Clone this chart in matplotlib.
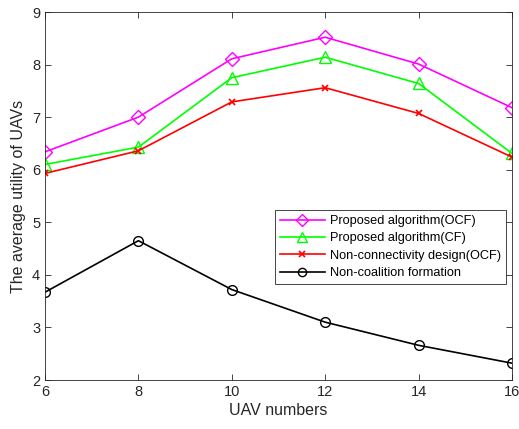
import matplotlib
matplotlib.use("Agg")
import matplotlib.pyplot as plt

plt.rcParams['font.family'] = ['Liberation Sans', 'DejaVu Sans']

x = [6, 8, 10, 12, 14, 16]
ocf = [6.34, 7.00, 8.11, 8.52, 8.01, 7.18]
cf = [6.10, 6.43, 7.75, 8.14, 7.64, 6.31]
nonconn = [5.93, 6.36, 7.29, 7.56, 7.07, 6.24]
noncoal = [3.67, 4.65, 3.72, 3.10, 2.66, 2.32]
labels = ['Proposed algorithm(OCF)', 'Proposed algorithm(CF)',
          'Non-connectivity design(OCF)', 'Non-coalition formation']

fig = plt.figure(figsize=(5.19, 4.29), dpi=100)
ax = fig.add_axes([45/519, (429-380)/429, 467/519, 368/429])

ax.plot(x, ocf, color='#ff00ff', marker='D', markersize=7, mfc='none', mew=1.0, lw=1.2, label=labels[0])
ax.plot(x, cf, color='#00ff00', marker='^', markersize=8, mfc='none', mew=1.0, lw=1.2, label=labels[1])
ax.plot(x, nonconn, color='#ff0000', marker='x', markersize=5, mew=1.2, lw=1.2, label=labels[2])
ax.plot(x, noncoal, color='#000000', marker='o', markersize=7, mfc='none', mew=1.0, lw=1.2, label=labels[3])

ax.set_xlim(6, 16)
ax.set_ylim(2, 9)
ax.set_xticks([6, 8, 10, 12, 14, 16])
ax.set_yticks([2, 3, 4, 5, 6, 7, 8, 9])
ax.tick_params(direction='in', top=True, right=True, labelsize=10.5, colors='#262626', length=4, width=0.6)
for s in ax.spines.values():
    s.set_color('#262626')
    s.set_linewidth(0.6)
ax.set_xlabel('UAV numbers', fontsize=11.5, color='#262626', labelpad=3)
ax.set_ylabel('The average utility of UAVs', fontsize=11.5, color='#262626', labelpad=4)

leg = ax.legend(loc='upper left', bbox_to_anchor=((275-45)/467, (380-210)/368), fontsize=9.2,
                frameon=True, fancybox=False, edgecolor='#262626', framealpha=1,
                borderpad=0.4, labelspacing=0.42, handlelength=3.5, handletextpad=0.4,
                borderaxespad=0, markerscale=0.85)
leg.get_frame().set_linewidth(0.6)

fig.savefig('out.png', dpi=100)
